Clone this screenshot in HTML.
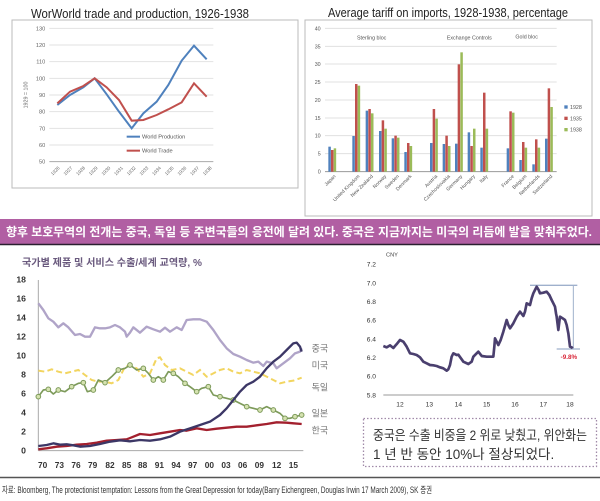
<!DOCTYPE html>
<html><head><meta charset="utf-8"><style>
body{margin:0;background:#fff;width:600px;height:501px;overflow:hidden;font-family:"Liberation Sans","Noto Sans CJK KR",sans-serif}
svg{position:absolute;left:0;top:0}
</style></head><body>
<svg width="600" height="501" viewBox="0 0 600 501" font-family="Liberation Sans, Noto Sans CJK KR, sans-serif">
<!-- Chart 1 -->
<text x="31" y="18" font-size="12.5" fill="#222" textLength="218" lengthAdjust="spacingAndGlyphs">WorWorld trade and production, 1926-1938</text>
<rect x="12" y="20" width="286" height="168" fill="#fff" stroke="#bbb" stroke-width="1"/>
<g transform="scale(0.33333)">
 <g stroke="#e2e2e2" stroke-width="3">
  <line x1="148" y1="85" x2="640" y2="85"/><line x1="148" y1="135" x2="640" y2="135"/><line x1="148" y1="185" x2="640" y2="185"/><line x1="148" y1="235" x2="640" y2="235"/><line x1="148" y1="285" x2="640" y2="285"/><line x1="148" y1="335" x2="640" y2="335"/><line x1="148" y1="385" x2="640" y2="385"/><line x1="148" y1="435" x2="640" y2="435"/>
 </g>
 <line x1="148" y1="485" x2="640" y2="485" stroke="#aaa" stroke-width="3"/>
 <g font-size="17" fill="#666" text-anchor="end">
  <text x="136" y="91">130</text><text x="136" y="141">120</text><text x="136" y="191">110</text><text x="136" y="241">100</text><text x="136" y="291">90</text><text x="136" y="341">80</text><text x="136" y="391">70</text><text x="136" y="441">60</text><text x="136" y="491">50</text>
 </g>
 <text transform="translate(82,285) rotate(-90)" font-size="16" fill="#666" text-anchor="middle">1929 = 100</text>
 <g font-size="14" fill="#666" text-anchor="end">
  <text transform="translate(180,505) rotate(-45)">1926</text><text transform="translate(218,505) rotate(-45)">1927</text><text transform="translate(256,505) rotate(-45)">1928</text><text transform="translate(294,505) rotate(-45)">1929</text><text transform="translate(332,505) rotate(-45)">1930</text><text transform="translate(370,505) rotate(-45)">1931</text><text transform="translate(408,505) rotate(-45)">1932</text><text transform="translate(446,505) rotate(-45)">1933</text><text transform="translate(484,505) rotate(-45)">1934</text><text transform="translate(522,505) rotate(-45)">1935</text><text transform="translate(560,505) rotate(-45)">1936</text><text transform="translate(598,505) rotate(-45)">1937</text><text transform="translate(636,505) rotate(-45)">1938</text>
 </g>
 <polyline fill="none" stroke="#4f81bd" stroke-width="6" points="172,315 210,285 250,262 284,235 320,283 357,335 395,385 430,340 470,305 505,255 545,182 582,137 620,178"/>
 <polyline fill="none" stroke="#c0504d" stroke-width="6" points="172,310 210,275 250,258 284,235 320,262 357,300 395,362 430,360 470,345 505,328 545,307 582,250 620,290"/>
 <line x1="380" y1="410" x2="420" y2="410" stroke="#4f81bd" stroke-width="6"/>
 <text x="426" y="416" font-size="17" fill="#555">World Production</text>
 <line x1="380" y1="452" x2="420" y2="452" stroke="#c0504d" stroke-width="6"/>
 <text x="426" y="458" font-size="17" fill="#555">World Trade</text>
</g>

<!-- Chart 2 -->
<text x="328" y="17" font-size="12.5" fill="#222" textLength="240" lengthAdjust="spacingAndGlyphs">Average tariff on imports, 1928-1938, percentage</text>
<rect x="305" y="20" width="287" height="196" fill="#fff" stroke="#bbb"/>
<g transform="translate(300,0) scale(0.33333)">
 <g stroke="#e0e0e0" stroke-width="3">
  <line x1="75" y1="85" x2="770" y2="85"/><line x1="75" y1="139" x2="770" y2="139"/><line x1="75" y1="192" x2="770" y2="192"/><line x1="75" y1="246" x2="770" y2="246"/><line x1="75" y1="300" x2="770" y2="300"/><line x1="75" y1="354" x2="770" y2="354"/><line x1="75" y1="407" x2="770" y2="407"/><line x1="75" y1="461" x2="770" y2="461"/>
 </g>
 <line x1="75" y1="515" x2="770" y2="515" stroke="#999" stroke-width="3"/>
 <g font-size="16" fill="#555" text-anchor="end">
  <text x="62" y="91">40</text><text x="62" y="145">35</text><text x="62" y="198">30</text><text x="62" y="252">25</text><text x="62" y="306">20</text><text x="62" y="360">15</text><text x="62" y="413">10</text><text x="62" y="467">5</text><text x="62" y="521">0</text>
 </g>
 <g font-size="16" fill="#555" text-anchor="middle">
  <text x="215" y="118">Sterling bloc</text><text x="508" y="118">Exchange Controls</text><text x="680" y="116">Gold bloc</text>
 </g>
 <g id="bars">
 <!-- Japan c=100 -->
 <rect x="85" y="440" width="7.5" height="75" fill="#4f81bd"/><rect x="93" y="450" width="7.5" height="65" fill="#c0504d"/><rect x="101" y="445" width="7.5" height="70" fill="#9bbb59"/>
 <rect x="157" y="408" width="7.5" height="107" fill="#4f81bd"/><rect x="165" y="252" width="7.5" height="263" fill="#c0504d"/><rect x="173" y="257" width="7.5" height="258" fill="#9bbb59"/>
 <rect x="197" y="332" width="7.5" height="183" fill="#4f81bd"/><rect x="205" y="327" width="7.5" height="188" fill="#c0504d"/><rect x="213" y="340" width="7.5" height="175" fill="#9bbb59"/>
 <rect x="237" y="393" width="7.5" height="122" fill="#4f81bd"/><rect x="245" y="361" width="7.5" height="154" fill="#c0504d"/><rect x="253" y="386" width="7.5" height="129" fill="#9bbb59"/>
 <rect x="275" y="415" width="7.5" height="100" fill="#4f81bd"/><rect x="283" y="407" width="7.5" height="108" fill="#c0504d"/><rect x="291" y="413" width="7.5" height="102" fill="#9bbb59"/>
 <rect x="313" y="456" width="7.5" height="59" fill="#4f81bd"/><rect x="321" y="429" width="7.5" height="86" fill="#c0504d"/><rect x="329" y="438" width="7.5" height="77" fill="#9bbb59"/>
 <rect x="390" y="429" width="7.5" height="86" fill="#4f81bd"/><rect x="398" y="327" width="7.5" height="188" fill="#c0504d"/><rect x="406" y="356" width="7.5" height="159" fill="#9bbb59"/>
 <rect x="428" y="432" width="7.5" height="83" fill="#4f81bd"/><rect x="436" y="407" width="7.5" height="108" fill="#c0504d"/><rect x="444" y="438" width="7.5" height="77" fill="#9bbb59"/>
 <rect x="465" y="431" width="7.5" height="84" fill="#4f81bd"/><rect x="473" y="193" width="7.5" height="322" fill="#c0504d"/><rect x="481" y="157" width="7.5" height="358" fill="#9bbb59"/>
 <rect x="503" y="397" width="7.5" height="118" fill="#4f81bd"/><rect x="511" y="438" width="7.5" height="77" fill="#c0504d"/><rect x="519" y="386" width="7.5" height="129" fill="#9bbb59"/>
 <rect x="541" y="443" width="7.5" height="72" fill="#4f81bd"/><rect x="549" y="278" width="7.5" height="237" fill="#c0504d"/><rect x="557" y="386" width="7.5" height="129" fill="#9bbb59"/>
 <rect x="620" y="445" width="7.5" height="70" fill="#4f81bd"/><rect x="628" y="334" width="7.5" height="181" fill="#c0504d"/><rect x="636" y="338" width="7.5" height="177" fill="#9bbb59"/>
 <rect x="658" y="480" width="7.5" height="35" fill="#4f81bd"/><rect x="666" y="426" width="7.5" height="89" fill="#c0504d"/><rect x="674" y="443" width="7.5" height="72" fill="#9bbb59"/>
 <rect x="697" y="493" width="7.5" height="22" fill="#4f81bd"/><rect x="705" y="418" width="7.5" height="97" fill="#c0504d"/><rect x="713" y="443" width="7.5" height="72" fill="#9bbb59"/>
 <rect x="735" y="416" width="7.5" height="99" fill="#4f81bd"/><rect x="743" y="265" width="7.5" height="250" fill="#c0504d"/><rect x="751" y="321" width="7.5" height="194" fill="#9bbb59"/>
 </g>
 <g font-size="15" fill="#555" text-anchor="end">
  <text transform="translate(108,530) rotate(-45)">Japan</text>
  <text transform="translate(180,530) rotate(-45)">United Kingdom</text>
  <text transform="translate(220,530) rotate(-45)">New Zealand</text>
  <text transform="translate(260,530) rotate(-45)">Norway</text>
  <text transform="translate(298,530) rotate(-45)">Sweden</text>
  <text transform="translate(336,530) rotate(-45)">Denmark</text>
  <text transform="translate(413,530) rotate(-45)">Austria</text>
  <text transform="translate(451,530) rotate(-45)">Czechoslovakia</text>
  <text transform="translate(488,530) rotate(-45)">Germany</text>
  <text transform="translate(526,530) rotate(-45)">Hungary</text>
  <text transform="translate(564,530) rotate(-45)">Italy</text>
  <text transform="translate(643,530) rotate(-45)">France</text>
  <text transform="translate(681,530) rotate(-45)">Belgium</text>
  <text transform="translate(720,530) rotate(-45)">Netherlands</text>
  <text transform="translate(758,530) rotate(-45)">Switzerland</text>
 </g>
 <rect x="793" y="316" width="10" height="10" fill="#4f81bd"/><text x="810" y="327" font-size="16" fill="#555">1928</text>
 <rect x="793" y="350" width="10" height="10" fill="#c0504d"/><text x="810" y="361" font-size="16" fill="#555">1935</text>
 <rect x="793" y="384" width="10" height="10" fill="#9bbb59"/><text x="810" y="395" font-size="16" fill="#555">1938</text>
</g>

<!-- Banner -->
<rect x="0" y="219" width="600" height="25" fill="#b15fa3"/>
<line x1="0" y1="244.5" x2="600" y2="244.5" stroke="#2a2030" stroke-width="1.5"/>
<text x="6" y="236" font-size="12" font-weight="bold" fill="#fff" textLength="586" lengthAdjust="spacingAndGlyphs">향후 보호무역의 전개는 중국, 독일 등 주변국들의 응전에 달려 있다. 중국은 지금까지는 미국의 리듬에 발을 맞춰주었다.</text>

<!-- Chart 3 -->
<text x="22" y="266" font-size="10" font-weight="bold" fill="#6a5a7e" textLength="180" lengthAdjust="spacingAndGlyphs">국가별 제품 및 서비스 수출/세계 교역량, %</text>
<g transform="translate(0,240) scale(0.33333)">
 <line x1="115" y1="120" x2="115" y2="632" stroke="#aaa" stroke-width="3"/>
 <line x1="115" y1="632" x2="910" y2="632" stroke="#aaa" stroke-width="3"/>
 <g font-size="26" fill="#333" text-anchor="end" font-weight="bold">
  <text x="78" y="128">18</text><text x="78" y="185">16</text><text x="78" y="242">14</text><text x="78" y="299">12</text><text x="78" y="356">10</text><text x="78" y="413">8</text><text x="78" y="470">6</text><text x="78" y="527">4</text><text x="78" y="584">2</text><text x="78" y="641">0</text>
 </g>
 <g font-size="25" fill="#333" text-anchor="middle" font-weight="bold">
  <text x="128" y="684">70</text><text x="178" y="684">73</text><text x="228" y="684">76</text><text x="278" y="684">79</text><text x="330" y="684">82</text><text x="380" y="684">85</text><text x="428" y="684">88</text><text x="478" y="684">91</text><text x="528" y="684">94</text><text x="578" y="684">97</text><text x="628" y="684">00</text><text x="678" y="684">03</text><text x="728" y="684">06</text><text x="778" y="684">09</text><text x="830" y="684">12</text><text x="880" y="684">15</text>
 </g>
 <polyline fill="none" stroke="#b0a4c8" stroke-width="7" stroke-linejoin="round" points="115,190 130,210 145,235 160,245 175,262 190,250 205,262 225,285 240,282 255,290 270,290 285,262 300,265 315,265 330,262 345,255 360,262 375,275 380,290 390,278 400,262 420,278 440,260 460,268 480,275 495,263 510,275 530,262 545,270 560,240 580,238 600,238 620,245 640,270 660,300 680,325 700,342 720,350 740,360 760,368 775,365 790,378 800,365 820,370 830,385 850,370 870,355 885,340 900,335 905,325"/>
 <polyline fill="none" stroke="#f2d560" stroke-width="6" stroke-dasharray="18,10" points="115,392 135,395 155,388 175,395 195,400 215,395 235,390 255,405 275,420 295,425 315,425 335,430 355,420 375,380 390,375 410,385 430,410 450,400 470,355 480,352 495,375 515,390 540,385 560,395 580,405 600,390 620,410 640,400 660,390 680,385 700,395 720,400 740,390 760,395 780,400 800,410 820,420 840,430 860,425 880,422 905,413"/>
 <polyline fill="none" stroke="#7d9a5a" stroke-width="5" stroke-linejoin="round" points="115,470 130,450 145,448 160,462 175,450 195,455 215,440 235,430 250,428 262,455 280,450 295,420 315,428 335,410 355,390 375,385 390,375 410,390 430,385 445,400 460,420 475,410 490,420 505,395 520,400 535,410 555,430 570,440 590,455 605,445 625,440 640,465 660,470 680,475 700,480 720,490 740,500 760,505 780,510 800,500 820,510 840,520 855,535 870,535 885,530 905,525"/>
 <g fill="#d5e2b0" stroke="#7d9a5a" stroke-width="3">
  <circle cx="115" cy="470" r="7"/><circle cx="145" cy="448" r="7"/><circle cx="175" cy="450" r="7"/><circle cx="215" cy="440" r="7"/><circle cx="250" cy="428" r="7"/><circle cx="280" cy="450" r="7"/><circle cx="315" cy="428" r="7"/><circle cx="355" cy="390" r="7"/><circle cx="390" cy="375" r="7"/><circle cx="430" cy="385" r="7"/><circle cx="460" cy="420" r="7"/><circle cx="490" cy="420" r="7"/><circle cx="520" cy="400" r="7"/><circle cx="555" cy="430" r="7"/><circle cx="590" cy="455" r="7"/><circle cx="625" cy="440" r="7"/><circle cx="660" cy="470" r="7"/><circle cx="700" cy="480" r="7"/><circle cx="740" cy="500" r="7"/><circle cx="780" cy="510" r="7"/><circle cx="820" cy="510" r="7"/><circle cx="855" cy="535" r="7"/><circle cx="885" cy="530" r="7"/><circle cx="905" cy="525" r="7"/>
 </g>
 <polyline fill="none" stroke="#a3202e" stroke-width="7" stroke-linejoin="round" points="115,628 140,625 170,620 200,618 230,614 260,612 290,608 320,602 350,600 380,598 400,590 420,582 450,585 480,580 510,575 540,570 560,572 590,565 620,570 650,566 680,563 710,560 740,560 770,556 800,552 830,547 860,548 880,550 905,552"/>
 <polyline fill="none" stroke="#3c3766" stroke-width="7" stroke-linejoin="round" points="115,618 140,615 160,610 180,614 200,613 220,616 240,620 270,618 300,612 330,605 360,601 390,604 420,600 450,602 480,598 510,590 540,575 570,565 600,555 630,545 660,525 680,505 700,480 720,455 740,435 760,425 780,410 800,385 820,365 840,350 860,330 880,310 890,308 900,320 905,335"/>
 <g font-size="27" fill="#777">
  <text x="935" y="335">중국</text><text x="935" y="385">미국</text><text x="935" y="452">독일</text><text x="935" y="530">일본</text><text x="935" y="580">한국</text>
 </g>
</g>

<!-- Chart 4 -->
<g transform="translate(340,240) scale(0.33333)">
 <text x="138" y="50" font-size="17" fill="#444">CNY</text>
 <g font-size="20" fill="#333" text-anchor="end">
  <text x="108" y="80">7.2</text><text x="108" y="136">7.0</text><text x="108" y="192">6.8</text><text x="108" y="248">6.6</text><text x="108" y="304">6.4</text><text x="108" y="360">6.2</text><text x="108" y="416">6.0</text><text x="108" y="472">5.8</text>
 </g>
 <line x1="130" y1="465" x2="700" y2="465" stroke="#999" stroke-width="3"/>
 <g font-size="20" fill="#333" text-anchor="middle">
  <text x="180" y="500">12</text><text x="268" y="500">13</text><text x="355" y="500">14</text><text x="440" y="500">15</text><text x="525" y="500">16</text><text x="610" y="500">17</text><text x="690" y="500">18</text>
 </g>
 <line x1="570" y1="136" x2="712" y2="136" stroke="#9fb0cc" stroke-width="4"/>
 <line x1="650" y1="327" x2="720" y2="327" stroke="#9fb0cc" stroke-width="4"/>
 <line x1="700" y1="136" x2="700" y2="327" stroke="#9fb0cc" stroke-width="3"/>
 <polyline fill="none" stroke="#4a3f6e" stroke-width="8" stroke-linejoin="round" points="130,318 140,322 150,316 160,324 165,318 172,310 180,300 190,305 200,320 210,340 220,342 230,345 240,352 250,365 260,370 270,375 280,376 290,378 300,382 310,385 320,392 325,388 330,375 335,350 340,340 350,345 355,344 365,358 370,365 385,372 395,365 400,350 410,340 415,335 425,348 440,350 460,350 463,320 465,295 470,305 475,315 482,300 490,275 500,240 505,255 510,265 520,250 530,230 540,215 550,228 555,215 560,190 570,195 575,175 580,160 585,150 590,140 596,150 600,160 610,158 620,155 628,165 635,180 640,190 645,200 648,220 650,230 655,270 658,245 660,230 668,235 675,240 680,255 685,280 690,320 695,322 698,325"/>
 <text x="662" y="357" font-size="19" fill="#d9283a" font-weight="bold">-9.8%</text>
</g>
<rect x="363.5" y="418.5" width="233" height="48" fill="none" stroke="#a08aa8" stroke-width="1.3" stroke-dasharray="1.5,2"/>
<text x="373" y="440" font-size="13.5" fill="#333" textLength="214" lengthAdjust="spacingAndGlyphs">중국은 수출 비중을 2 위로 낮췄고, 위안화는</text>
<text x="373" y="459" font-size="13.5" fill="#333">1 년 반 동안 10%나 절상되었다.</text>

<!-- Footer -->
<line x1="0" y1="477.5" x2="600" y2="477.5" stroke="#555" stroke-width="1.5"/>
<text x="2" y="493" font-size="9" fill="#333" textLength="430" lengthAdjust="spacingAndGlyphs">자료: Bloomberg, The protectionist temptation: Lessons from the Great Depression for today(Barry Eichengreen, Douglas Irwin 17 March 2009), SK 증권</text>
</svg>
</body></html>
